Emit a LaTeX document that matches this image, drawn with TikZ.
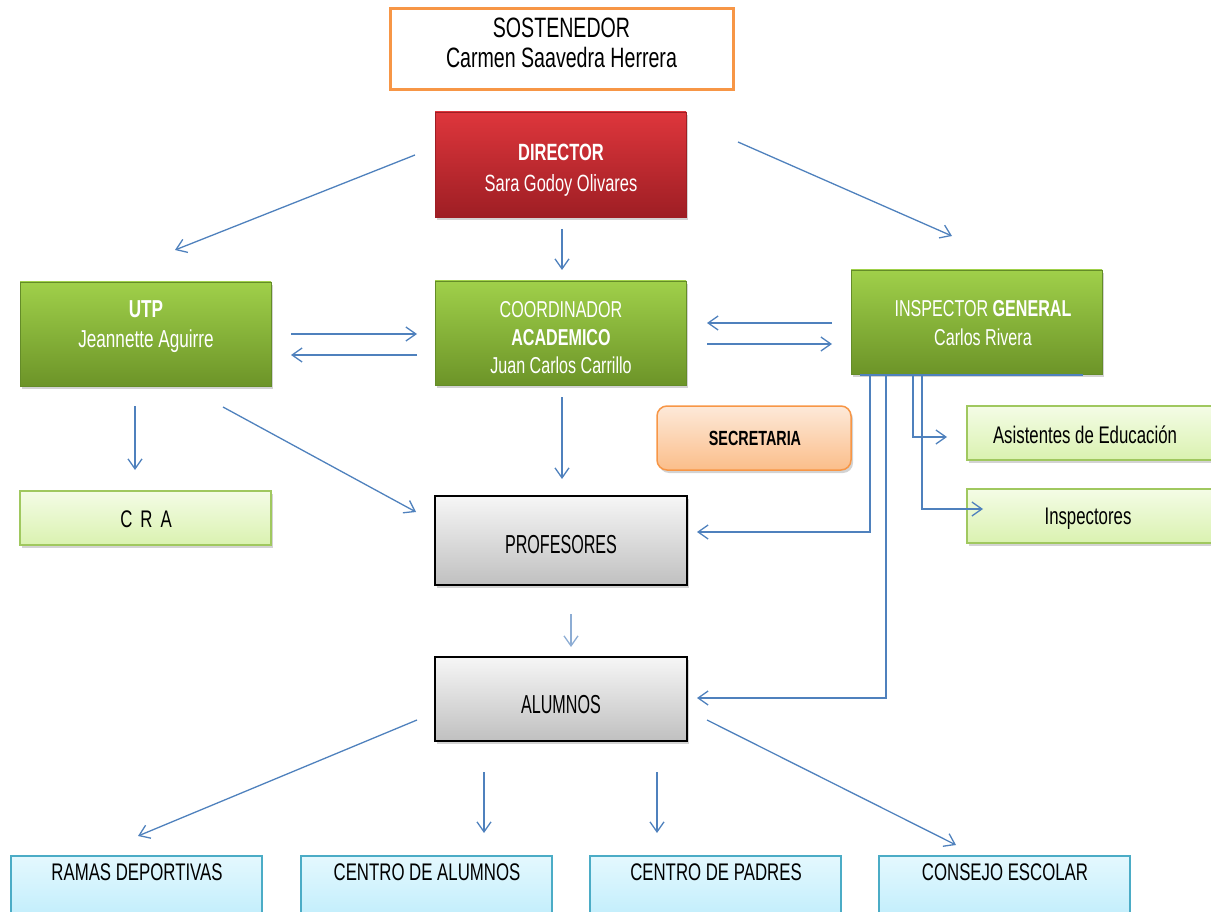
\documentclass[tikz,border=0pt]{standalone}
\usepackage{fontspec}
\setmainfont{Liberation Sans}[FakeStretch=0.70]
\newfontfamily\narrowfam{Liberation Sans}[FakeStretch=0.62]
\usetikzlibrary{arrows.meta,shadows,calc}
\definecolor{arr}{HTML}{4F81BD}
\definecolor{orng}{HTML}{F79646}
\definecolor{redT}{RGB}{222,54,60}
\definecolor{redB}{RGB}{158,30,36}
\definecolor{grnT}{RGB}{160,208,74}
\definecolor{grnB}{RGB}{108,148,40}
\definecolor{grnD}{RGB}{100,140,40}
\definecolor{lgT}{RGB}{244,252,230}
\definecolor{lgB}{RGB}{218,242,176}
\definecolor{lgD}{RGB}{160,200,95}
\definecolor{seT}{RGB}{253,233,217}
\definecolor{seB}{RGB}{251,190,138}
\definecolor{gyT}{RGB}{246,246,246}
\definecolor{gyB}{RGB}{192,192,192}
\definecolor{blT}{RGB}{228,248,254}
\definecolor{blB}{RGB}{166,230,250}
\definecolor{blD}{HTML}{4BACC6}
\begin{document}
\begin{tikzpicture}[x=1pt,y=-1pt,
  every node/.style={inner sep=0pt,outer sep=0pt},
  conn/.style={draw=arr,line width=1.3pt,-{Straight Barb[length=10pt,width=14pt,line width=1.3pt]}},
  plain/.style={draw=arr,line width=1.3pt},
  shd/.style={drop shadow={opacity=0.35,shadow xshift=2pt,shadow yshift=-3pt}},
  sostbox/.style={draw=orng,line width=3pt,fill=white,anchor=north west},
  redbox/.style={shd,draw=redB,line width=0.6pt,top color=redT,bottom color=redB,anchor=north west,minimum width=251pt,minimum height=105pt},
  grnbox/.style={shd,draw=grnD,line width=0.6pt,top color=grnT,bottom color=grnB,anchor=north west,minimum width=251pt,minimum height=104pt},
  lgbox/.style={shd,draw=lgD,line width=1.5pt,top color=lgT,bottom color=lgB,anchor=north west,minimum height=54pt},
  secbox/.style={shd,draw=orng,line width=1.5pt,top color=seT,bottom color=seB,rounded corners=10pt,anchor=north west,minimum width=194pt,minimum height=64pt},
  graybox/.style={shd,draw=black,line width=1.8pt,top color=gyT,bottom color=gyB,anchor=north west,minimum width=252pt},
  bluebox/.style={draw=blD,line width=1.5pt,top color=blT,bottom color=blB,anchor=north west,minimum width=251pt,minimum height=110pt},
  wtxt/.style={text=white,align=center,font=\fontsize{23.5}{30}\selectfont},
  btxt/.style={text=black,align=center,font=\fontsize{24}{30}\selectfont},
  ntxt/.style={text=black,align=center,font=\narrowfam\fontsize{26}{30}\selectfont},
  bigtxt/.style={text=black,align=center,font=\fontsize{28}{30}\selectfont}
]
\useasboundingbox (0,0) rectangle (1211,912);
\clip (0,0) rectangle (1211,912);

% boxes
\node[sostbox,minimum width=343pt,minimum height=81pt] (sost) at (390,9) {};
\node[bigtxt] (sostt) at (561.5,43) {SOSTENEDOR\\Carmen Saavedra Herrera};

\node[redbox] (dir) at (435,112) {};
\node[wtxt] (dirt) at (561,170) {\textbf{DIRECTOR}\\[1pt]Sara Godoy Olivares};

\node[grnbox] (utp) at (20,282) {};
\node[wtxt,font=\fontsize{24.5}{30}\selectfont] (utpt) at (146,327) {\textbf{UTP}\\[0pt]Jeannette Aguirre};

\node[grnbox] (coord) at (435,281) {};
\node[wtxt,font=\fontsize{23}{28}\selectfont] (coordt) at (561,338) {COORDINADOR\\\textbf{ACADEMICO}\\Juan Carlos Carrillo};

\node[grnbox] (insp) at (851,270) {};
\node[wtxt,font=\fontsize{23}{29}\selectfont] (inspt) at (983,323) {INSPECTOR \textbf{GENERAL}\\Carlos Rivera};

\node[lgbox,minimum width=251pt] (cra) at (20,491) {};
\node[btxt] (crat) at (146,519) {C\,\,R\,\,A};

\node[lgbox,minimum width=260pt] (asis) at (967,406) {};
\node[btxt] (asist) at (1085,435) {Asistentes de Educación};

\node[lgbox,minimum width=260pt] (insps) at (967,489) {};
\node[btxt] (inspst) at (1088,519) {Inspectores};

\node[secbox] (sec) at (657,406) {};
\node[btxt,font=\bfseries\fontsize{20.5}{24}\selectfont] (sect) at (755,438) {SECRETARIA};

\node[graybox,minimum height=89pt] (prof) at (435,496) {};
\node[ntxt] (proft) at (561,545) {PROFESORES};

\node[graybox,minimum height=84pt] (alum) at (435,657) {};
\node[ntxt] (alumt) at (561,705) {ALUMNOS};

\node[bluebox] (ramas) at (11,856) {};
\node[btxt] (ramast) at (137,872) {RAMAS DEPORTIVAS};
\node[bluebox] (calum) at (301,856) {};
\node[btxt] (calumt) at (427,872) {CENTRO DE ALUMNOS};
\node[bluebox] (cpad) at (590,856) {};
\node[btxt] (cpadt) at (716,872) {CENTRO DE PADRES};
\node[bluebox] (cons) at (879,856) {};
\node[btxt] (const) at (1005,872) {CONSEJO ESCOLAR};

% connector end points
\coordinate (d1) at (415,155); \coordinate (u1) at (175,250);
\coordinate (d2) at (562,229); \coordinate (c2) at (562,270);
\coordinate (d3) at (738,142); \coordinate (i3) at (952,236);
\coordinate (u4) at (291,334); \coordinate (c4) at (417,334);
\coordinate (c5) at (417,355); \coordinate (u5) at (291,355);
\coordinate (i6) at (832,323); \coordinate (c6) at (707,323);
\coordinate (c7) at (707,344); \coordinate (i7) at (832,344);
\coordinate (u8) at (135,406); \coordinate (r8) at (135,470);
\coordinate (u9) at (223,407); \coordinate (p9) at (416,512);
\coordinate (c10) at (562,397); \coordinate (p10) at (562,479);
\coordinate (p11) at (571,614); \coordinate (a11) at (571,647);
\coordinate (ib1) at (860,375); \coordinate (ib2) at (1083,375);
\coordinate (i12) at (870,375); \coordinate (p12) at (697,532);
\coordinate (i13) at (886,375); \coordinate (a13) at (697,698);
\coordinate (i14) at (913,375); \coordinate (s14) at (947,437);
\coordinate (i15) at (922,375); \coordinate (s15) at (983,509);
\coordinate (a16) at (417,720); \coordinate (r16) at (138,836);
\coordinate (a17) at (484,772); \coordinate (r17) at (484,833);
\coordinate (a18) at (657,772); \coordinate (r18) at (657,833);
\coordinate (a19) at (707,720); \coordinate (r19) at (956,845);

% connectors
\draw[conn] (d1) -- (u1);
\draw[conn] (d2) -- (c2);
\draw[conn] (d3) -- (i3);
\draw[conn] (u4) -- (c4);
\draw[conn] (c5) -- (u5);
\draw[conn] (i6) -- (c6);
\draw[conn] (c7) -- (i7);
\draw[conn] (u8) -- (r8);
\draw[conn] (u9) -- (p9);
\draw[conn] (c10) -- (p10);
\draw[conn,draw=arr!65] (p11) -- (a11);
\draw[plain] (ib1) -- (ib2);
\draw[conn] (i12) |- (p12);
\draw[conn] (i13) |- (a13);
\draw[conn] (i14) |- (s14);
\draw[conn] (i15) |- (s15);
\draw[conn] (a16) -- (r16);
\draw[conn] (a17) -- (r17);
\draw[conn] (a18) -- (r18);
\draw[conn] (a19) -- (r19);
\end{tikzpicture}
\end{document}
